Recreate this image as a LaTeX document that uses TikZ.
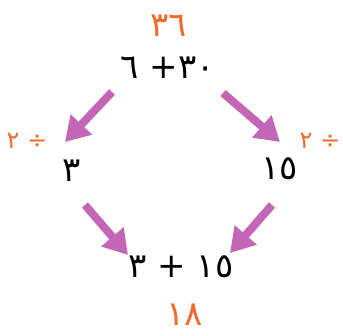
\documentclass[tikz,border=0pt]{standalone}
\usepackage{fontspec}
\newfontfamily\arabicfont[Script=Arabic]{DejaVu Sans}
\TeXXeTstate=1
\usetikzlibrary{arrows.meta}

\definecolor{sumorange}{RGB}{240,106,46}
\definecolor{arrowpink}{RGB}{196,102,182}

\tikzset{
  num/.style={font=\arabicfont\fontsize{34}{38}\selectfont, inner sep=0pt},
  result/.style={num, text=sumorange},
  halve/.style={num, text=sumorange, font=\arabicfont\fontsize{24}{28}\selectfont},
  arr/.style={arrowpink, line width=8pt, -{Triangle[length=24pt,width=28pt]}}
}

\begin{document}
\begin{tikzpicture}[x=1pt,y=1pt]
\useasboundingbox (0,0) rectangle (343,-336);

\node[result] (top) at (169,-26) {\beginR ٣٦\endR};
\node[num] (expr) at (168,-68) {\beginR ٣٠\mbox{+} ٦\endR};

\node[halve] (halfL) at (27,-141) {\beginR ÷ ٢\endR};
\node[num] (three) at (72,-171) {\beginR ٣\endR};
\node[num] (fifteen) at (280,-169) {\beginR ١٥\endR};
\node[halve] (halfR) at (320,-141) {\beginR ÷ ٢\endR};

\node[num] (bottom) at (181,-267) {\beginR ١٥ + ٣\endR};
\node[result] (res) at (185,-315) {\beginR ١٨\endR};

% halve both parts
\draw[arr] ([xshift=-56pt,yshift=-24pt]expr.center) -- ([xshift=-7pt,yshift=29pt]three.center);
\draw[arr] ([xshift=55pt,yshift=-25pt]expr.center) -- ([yshift=27pt]fifteen.center);

% add them up again
\draw[arr] ([xshift=13pt,yshift=-34pt]three.center) -- ([xshift=-53pt,yshift=12pt]bottom.center);
\draw[arr] ([xshift=-8pt,yshift=-36pt]fifteen.center) -- ([xshift=49pt,yshift=14pt]bottom.center);
\end{tikzpicture}
\end{document}
